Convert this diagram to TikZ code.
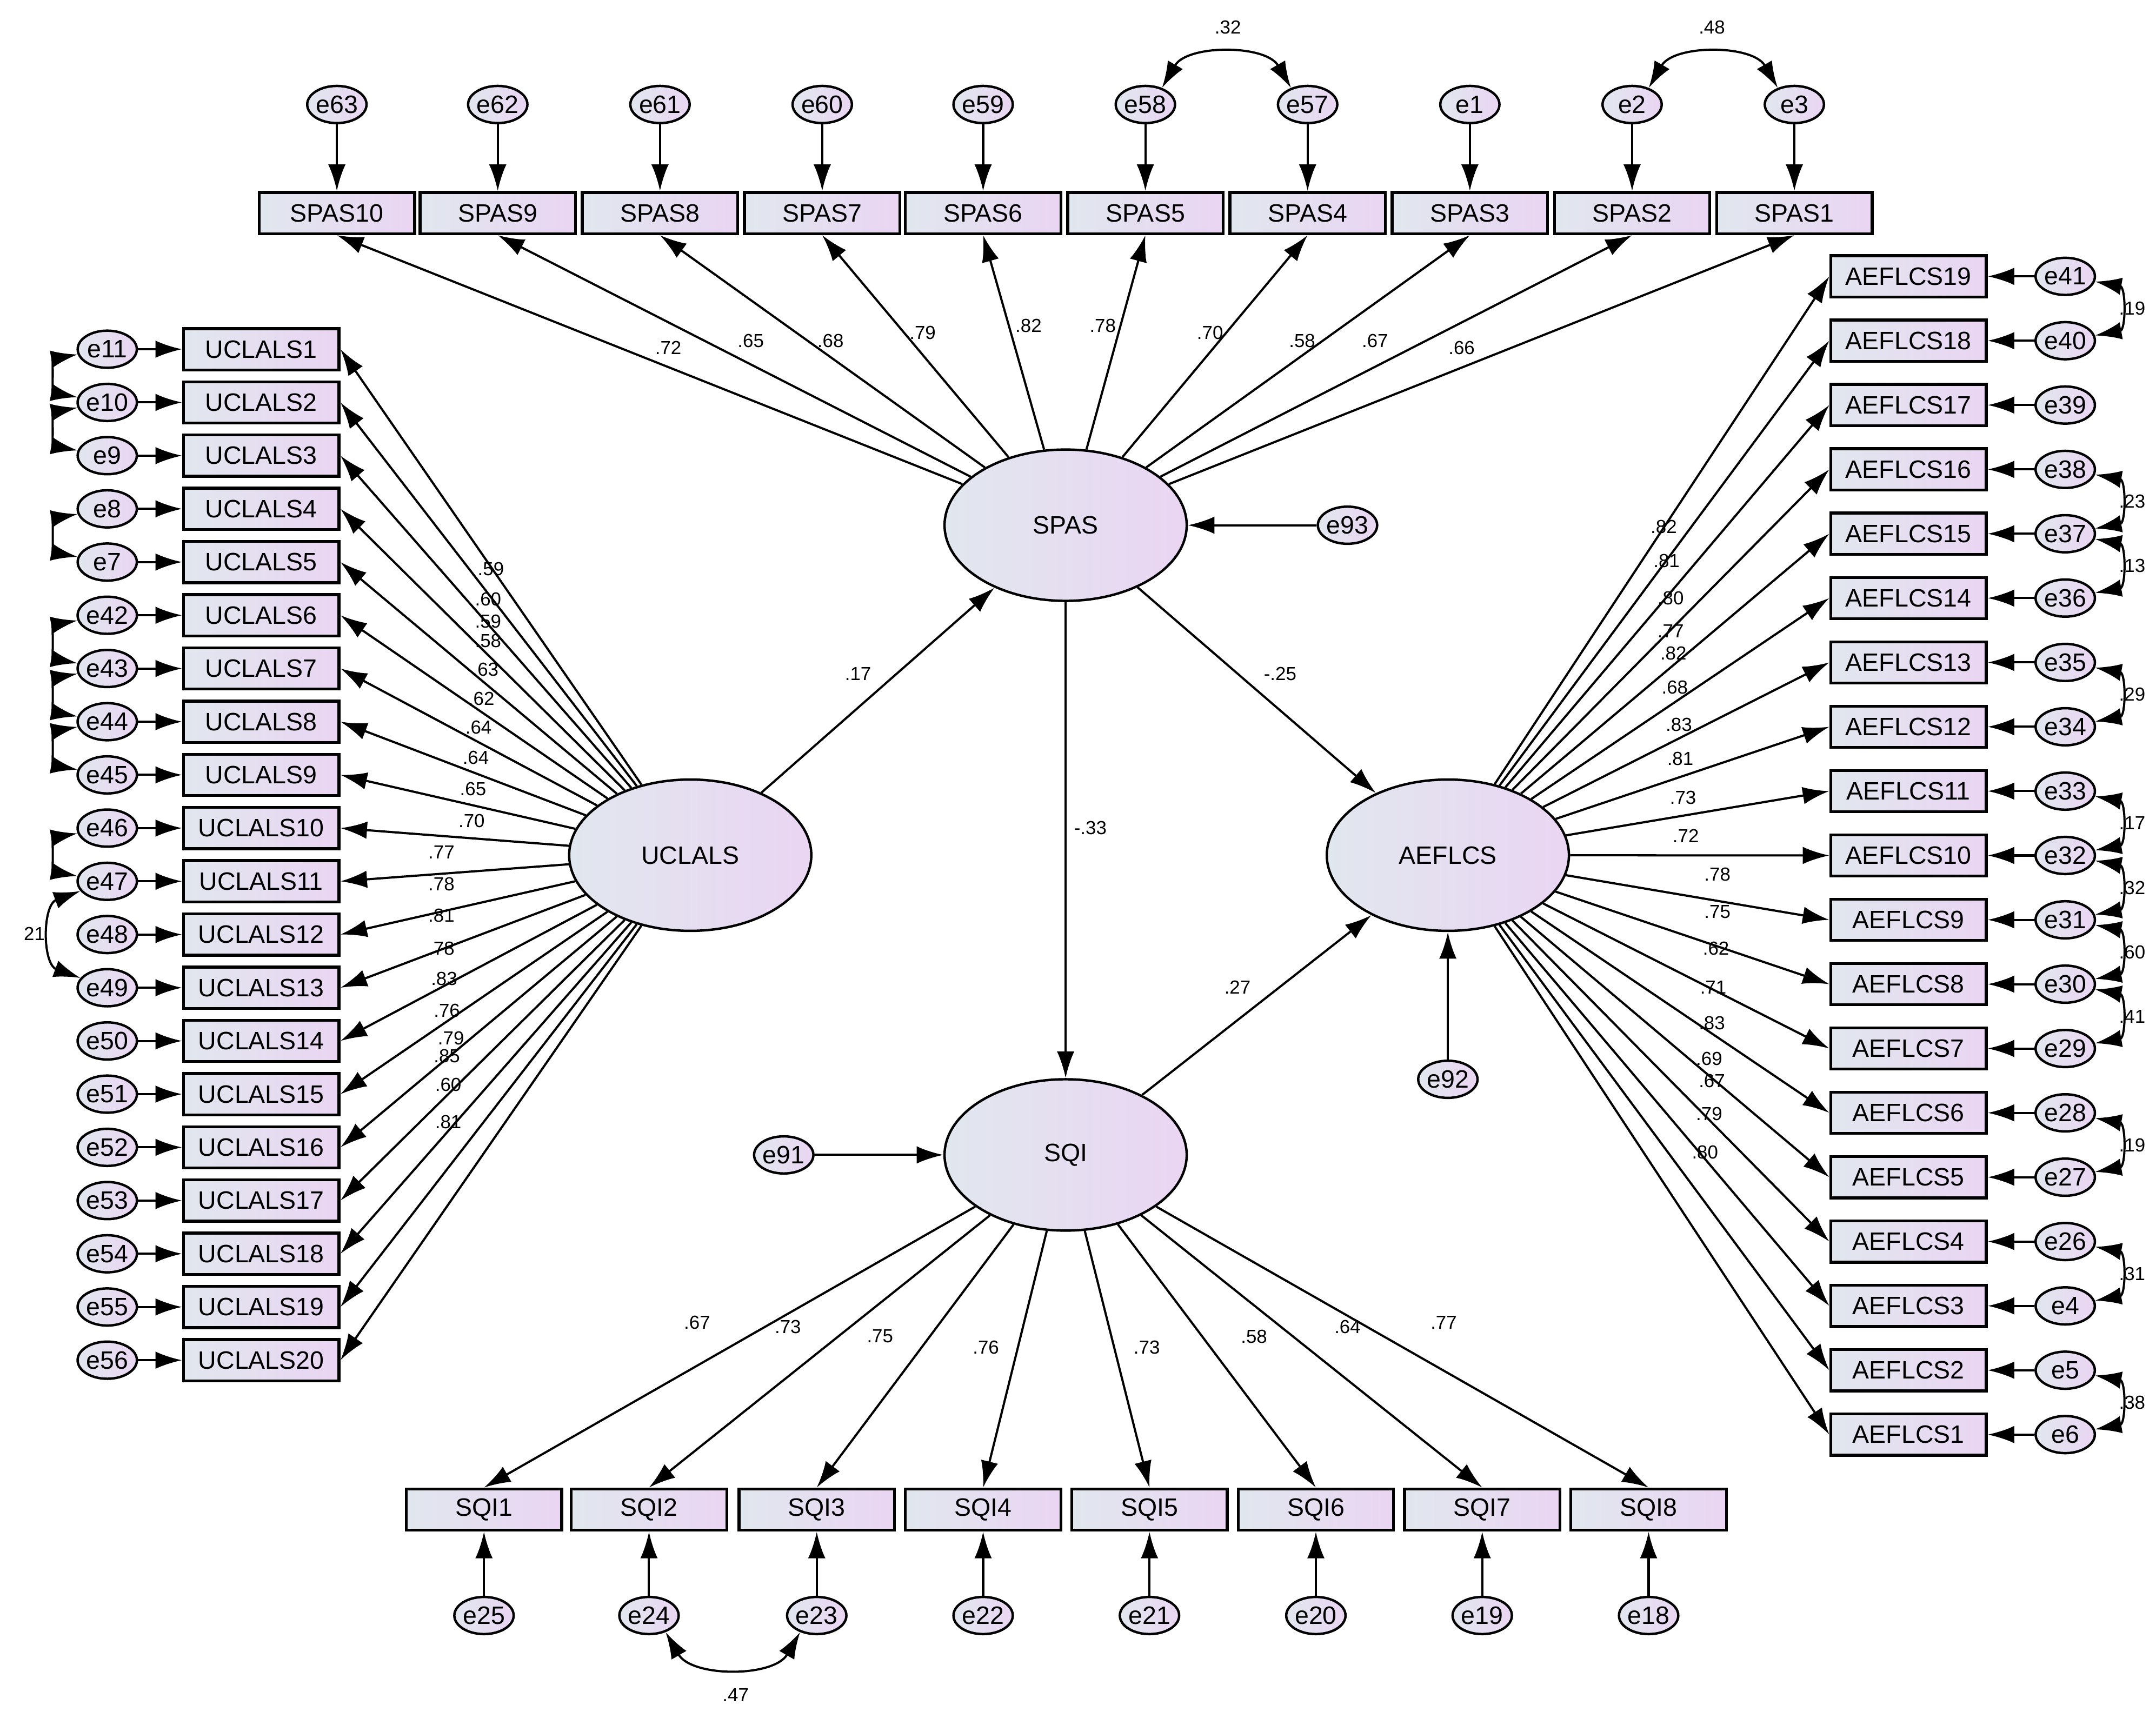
\documentclass[tikz,border=0pt]{standalone}
\usepackage{fontspec}
\setmainfont{Liberation Sans}
\usetikzlibrary{arrows.meta,shapes.geometric,calc}
\definecolor{cl}{RGB}{225,231,238}
\definecolor{cr}{RGB}{234,213,243}
\newcommand{\fsbox}{\fontsize{5.2}{6}\selectfont}
\newcommand{\fslab}{\fontsize{3.9}{4.5}\selectfont}
\begin{document}
\begin{tikzpicture}[x=0.01cm,y=-0.01cm,
 grad/.style={left color=cl,right color=cr},
 obs/.style={draw,line width=0.6pt,grad,minimum width=1.13cm,minimum height=0.3cm,inner sep=0pt,font=\fsbox},
 err/.style={ellipse,draw,line width=0.5pt,grad,minimum width=0.43cm,minimum height=0.27cm,inner sep=0pt,font=\fsbox},
 lat/.style={ellipse,draw,line width=0.5pt,grad,minimum width=1.76cm,minimum height=1.1cm,inner sep=0pt,font=\fsbox},
 arr/.style={-{Latex[length=5.5pt,width=3.6pt]},line width=0.45pt},
 cov/.style={{Latex[length=5.5pt,width=3.6pt]}-{Latex[length=5.5pt,width=3.6pt]},line width=0.45pt},
 lab/.style={font=\fslab,inner sep=0pt}]
\useasboundingbox (0,0) rectangle (1568,1254.6);
% latent
\node[lat] (SPAS) at (775,382) {SPAS};
\node[lat] (UCLALS) at (502,622) {UCLALS};
\node[lat] (AEFLCS) at (1053,622) {AEFLCS};
\node[lat] (SQI) at (775,840) {SQI};
\node[err] (e93) at (980,382) {e93};
\node[err] (e92) at (1053,785) {e92};
\node[err] (e91) at (570,840) {e91};
\draw[arr] (e93) -- (SPAS);
\draw[arr] (e92) -- (AEFLCS);
\draw[arr] (e91) -- (SQI);
\draw[arr] (UCLALS) -- (SPAS);
\draw[arr] (SPAS) -- (AEFLCS);
\draw[arr] (SPAS) -- (SQI);
\draw[arr] (SQI) -- (AEFLCS);
\node[lab] at (624,490) {.17};
\node[lab] at (931,490) {-.25};
\node[lab] at (793,602) {-.33};
\node[lab] at (900,718) {.27};
% SPAS items
\foreach \i/\e/\x/\l/\lx/\ly in {10/e63/245/.72/486/253,9/e62/362/.65/546/248,8/e61/480/.68/604/248,7/e60/598/.79/671/242,6/e59/715/.82/748/237,5/e58/833/.78/802/237,4/e57/951/.70/880/242,3/e1/1069/.58/947/248,2/e2/1187/.67/1000/248,1/e3/1305/.66/1063/253}{
 \node[obs] (S\i) at (\x,155) {SPAS\i};
 \node[err] (\e) at (\x,76) {\e};
 \draw[arr] (\e) -- (S\i);
 \draw[arr] (SPAS) -- (S\i.south);
 \node[lab] at (\lx,\ly) {\l};
}
\draw[cov] (e58.45) to[out=60,in=120] (e57.135);
\node[lab] at (893,20) {.32};
\draw[cov] (e2.45) to[out=60,in=120] (e3.135);
\node[lab] at (1245,20) {.48};
% SQI items
\foreach \i/\e/\x/\l/\lx/\ly in {1/e25/352/.67/507/962,2/e24/472/.73/573/965,3/e23/594/.75/640/972,4/e22/715/.76/717/980,5/e21/836/.73/834/980,6/e20/957/.58/912/972,7/e19/1078/.64/980/965,8/e18/1199/.77/1050/962}{
 \node[obs] (Q\i) at (\x,1098) {SQI\i};
 \node[err] (\e) at (\x,1175) {\e};
 \draw[arr] (\e) -- (Q\i);
 \draw[arr] (SQI) -- (Q\i.north);
 \node[lab] at (\lx,\ly) {\l};
}
\draw[cov] (e24.-45) to[out=-60,in=-120] (e23.-135);
\node[lab] at (535,1233) {.47};
% UCLALS items
\foreach \i/\e/\l/\lx/\ly in {1/e11/.59/357/414,2/e10/.60/355/436,3/e9/.59/355/452,4/e8/.58/355/466,5/e7/.63/353/487,6/e42/.62/350/508,7/e43/.64/348/529,8/e44/.64/346/551,9/e45/.65/344/574,10/e46/.70/343/597,11/e47/.77/321/620,12/e48/.78/321/643,13/e49/.81/321/666,14/e50/.78/321/690,15/e51/.83/323/712,16/e52/.76/325/735,17/e53/.79/328/755,18/e54/.85/325/768,19/e55/.60/326/789,20/e56/.81/326/816}{
 \pgfmathsetmacro\yy{254+(\i-1)*38.7}
 \node[obs] (U\i) at (190,\yy) {UCLALS\i};
 \node[err] (\e) at (78,\yy) {\e};
 \draw[arr] (\e) -- (U\i);
 \draw[arr] (UCLALS) -- (U\i.east);
 \node[lab] at (\lx,\ly) {\l};
}
\foreach \a/\b in {e11/e10,e10/e9,e8/e7,e42/e43,e43/e44,e44/e45,e46/e47}{
 \draw[cov] (\a.190) to[out=190,in=170,looseness=1.5] (\b.170);
}
\draw[cov] (e47.200) to[out=200,in=160,looseness=1.2] (e49.160);
\node[lab] at (25,679) {21};
% AEFLCS items
\foreach \k/\e/\l/\lx/\ly in {1/e41/.82/1210/383,2/e40/.81/1212/408,3/e39/.80/1215/435,4/e38/.77/1215/459,5/e37/.82/1217/475,6/e36/.68/1218/500,7/e35/.83/1221/527,8/e34/.81/1222/552,9/e33/.73/1224/580,10/e32/.72/1226/608,11/e31/.78/1249/636,12/e30/.75/1249/663,13/e29/.62/1248/690,14/e28/.71/1246/718,15/e27/.83/1245/744,16/e26/.69/1243/770,17/e4/.67/1245/786,18/e5/.79/1243/810,19/e6/.80/1240/838}{
 \pgfmathsetmacro\yy{201+(\k-1)*46.8}
 \pgfmathtruncatemacro\n{20-\k}
 \node[obs] (A\n) at (1388,\yy) {AEFLCS\n};
 \node[err] (\e) at (1502,\yy) {\e};
 \draw[arr] (\e) -- (A\n);
 \draw[arr] (AEFLCS) -- (A\n.west);
 \node[lab] at (\lx,\ly) {\l};
}
\foreach \a/\b/\l in {e41/e40/.19,e38/e37/.23,e37/e36/.13,e35/e34/.29,e33/e32/.17,e32/e31/.32,e31/e30/.60,e30/e29/.41,e28/e27/.19,e26/e4/.31,e5/e6/.38}{
 \draw[cov] (\a.-10) to[out=-10,in=10,looseness=1.5] (\b.10);
 \node[lab,anchor=west] at ($(\a.east)!0.5!(\b.east)+(16,0)$) {\l};
}
\end{tikzpicture}
\end{document}
